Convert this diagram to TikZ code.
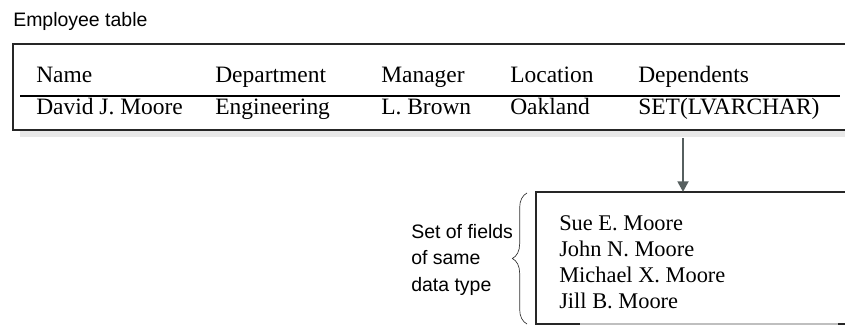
\documentclass[tikz,border=0pt]{standalone}
\usepackage{fontspec}
\setmainfont{Liberation Serif}
\setsansfont{Liberation Sans}
\usetikzlibrary{decorations.pathreplacing,arrows.meta}
\definecolor{slate}{HTML}{565F5F}

\begin{document}
\begin{tikzpicture}[x=0.75pt,y=-0.75pt,
  cell/.style={anchor=base west,inner sep=0pt,font=\fontsize{17.6}{20}\selectfont},
  dep/.style={anchor=base west,inner sep=0pt,font=\fontsize{16.8}{20}\selectfont},
  lbl/.style={anchor=base west,inner sep=0pt,font=\sffamily\fontsize{14.6}{20}\selectfont},
  rim/.style={draw=black!85,line width=0.8pt}]
\useasboundingbox (0,0) rectangle (845,328);
\node[lbl] (title) at (13,27) {Employee table};
% table
\fill[black!9] (20,130) rectangle (845,137);
\draw[rim] (845,44) -- (13,44) -- (13,130) -- (845,130);
\draw[line width=1.3pt] (20,96) -- (840,96);
\node[cell] (hname) at (36,83) {Name};
\node[cell] (hdept) at (215,83) {Department};
\node[cell] (hmgr) at (381,83) {Manager};
\node[cell] (hloc) at (510,83) {Location};
\node[cell] (hdep) at (638,83) {Dependents};
\node[cell] (rname) at (36,114) {David J. Moore};
\node[cell] (rdept) at (215,114) {Engineering};
\node[cell] (rmgr) at (381,114) {L. Brown};
\node[cell] (rloc) at (510,114) {Oakland};
\node[cell] (rdep) at (638,114) {SET(LVARCHAR)};
% set of dependents
\draw[rim] (845,192) -- (536,192) -- (536,324) -- (580,324);
\draw[black!25,line width=0.8pt] (580,324) -- (840,324);
\draw[black!85,line width=0.8pt] (838,324) -- (845,324);
\coordinate (arrtop) at (683,138);
\coordinate (arrend) at (683,192);
\draw[draw=slate,line width=2pt,-{Triangle[width=8pt,length=8pt]}] (arrtop) -- (arrend);
\node[dep] (dep1) at (559,230) {Sue E. Moore};
\node[dep] (dep2) at (559,256) {John N. Moore};
\node[dep] (dep3) at (559,282) {Michael X. Moore};
\node[dep] (dep4) at (559,308) {Jill B. Moore};
% brace and label
\coordinate (brbot) at (527,324);
\coordinate (brtop) at (527,193);
\draw[black!80,line width=0.5pt,decorate,decoration={brace,amplitude=11pt}] (brbot) -- (brtop);
\node[lbl] (setlbl1) at (411,238) {Set of fields};
\node[lbl] (setlbl2) at (411,264.5) {of same};
\node[lbl] (setlbl3) at (411,291) {data type};
\end{tikzpicture}
\end{document}
